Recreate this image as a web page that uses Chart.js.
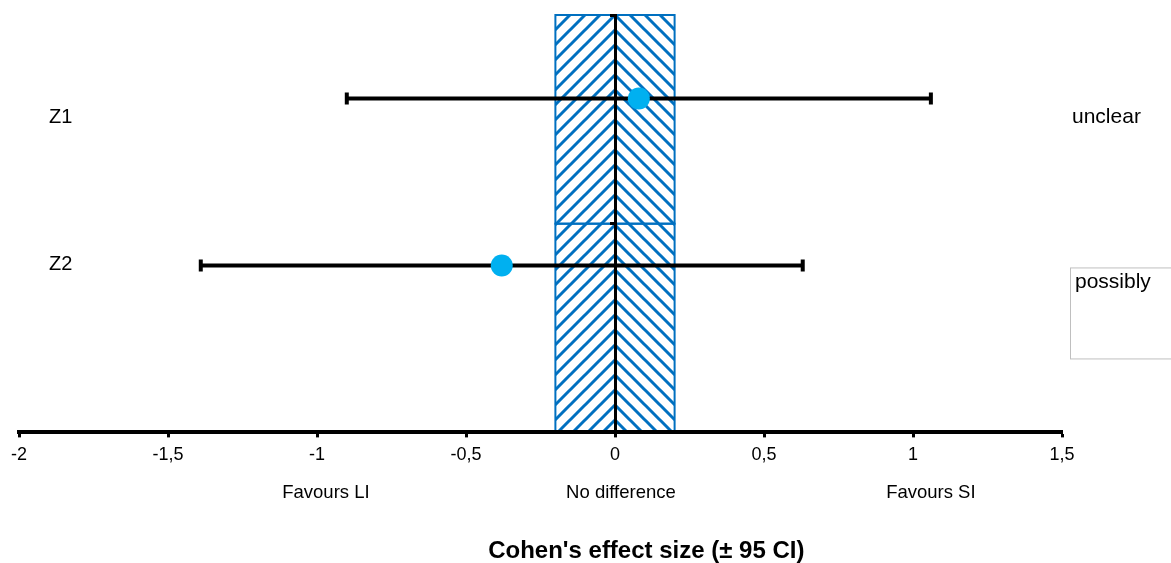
<!DOCTYPE html>
<html>
<head>
<meta charset="utf-8">
<script src="https://cdn.jsdelivr.net/npm/chart.js@4/dist/chart.umd.min.js"></script>
<style>
  html, body { margin: 0; padding: 0; background: #ffffff; }
  #wrap { width: 1171px; height: 563px; position: relative; }
</style>
</head>
<body>
<div id="wrap"><canvas id="c" width="1171" height="563"></canvas></div>
<script>
// ---- data ----
const studies = ['Z1', 'Z2'];
const studyRows = [2, 1];
const effect = [0.08, -0.38];
const ciLow = [-0.90, -1.39];
const ciHigh = [1.06, 0.63];
const verdicts = ['unclear', 'possibly'];
const xTicks = [-2, -1.5, -1, -0.5, 0, 0.5, 1, 1.5];
const zoneBounds = [-0.2, 0.2];
const zoneRows = [0, 1.25, 2.5];
const footLabels = ['Favours LI', 'No difference', 'Favours SI'];
const footX = [-0.97, 0.02, 1.06];
const axisTitle = "Cohen's effect size (\u00B1 95 CI)";

const FONT = '"Liberation Sans", Arial, sans-serif';
const BLUE = '#0070C0';

function makePattern(ctx, dir) {
  const s = 15;
  const c = document.createElement('canvas');
  c.width = s; c.height = s;
  const g = c.getContext('2d');
  g.strokeStyle = BLUE;
  g.lineWidth = 3;
  g.lineCap = 'square';
  g.beginPath();
  if (dir === 'up') {
    g.moveTo(0, s); g.lineTo(s, 0);
    g.moveTo(-2, 2); g.lineTo(2, -2);
    g.moveTo(s - 2, s + 2); g.lineTo(s + 2, s - 2);
  } else {
    g.moveTo(0, 0); g.lineTo(s, s);
    g.moveTo(-2, s - 2); g.lineTo(2, s + 2);
    g.moveTo(s - 2, -2); g.lineTo(s + 2, 2);
  }
  g.stroke();
  return ctx.createPattern(c, 'repeat');
}

const overlay = {
  id: 'overlay',
  beforeDraw(chart) {
    const { ctx, scales: { x, y } } = chart;
    const xl = x.getPixelForValue(zoneBounds[0]);
    const xm = x.getPixelForValue(0);
    const xr = x.getPixelForValue(zoneBounds[1]);
    const yt = y.getPixelForValue(zoneRows[zoneRows.length - 1]);
    const yb = y.getPixelForValue(zoneRows[0]);
    ctx.save();
    ctx.fillStyle = makePattern(ctx, 'up');
    ctx.fillRect(xl, yt, xm - xl, yb - yt);
    ctx.fillStyle = makePattern(ctx, 'down');
    ctx.fillRect(xm, yt, xr - xm, yb - yt);
    ctx.strokeStyle = BLUE;
    ctx.lineWidth = 2;
    for (let i = 0; i < zoneRows.length - 1; i++) {
      const a = y.getPixelForValue(zoneRows[i + 1]);
      const b = y.getPixelForValue(zoneRows[i]);
      ctx.strokeRect(xl, a, xr - xl, b - a);
    }
    ctx.restore();
  },
  afterDraw(chart) {
    const { ctx, chartArea, scales: { x, y } } = chart;
    ctx.save();
    ctx.fillStyle = '#000';
    ctx.textBaseline = 'middle';
    // study labels on the left
    ctx.font = '20px ' + FONT;
    ctx.textAlign = 'center';
    const labelOffsets = [19, -1];
    studies.forEach((s, i) => {
      ctx.fillText(s, x.getPixelForValue(-1.86), y.getPixelForValue(studyRows[i]) + labelOffsets[i]);
    });
    // verdict labels on the right
    ctx.font = '21px ' + FONT;
    ctx.textAlign = 'left';
    const rx = chartArea.right + 10;
    ctx.fillText(verdicts[0], rx, y.getPixelForValue(studyRows[0]) + 19);
    // boxed verdict
    const by = y.getPixelForValue(studyRows[1]) + 2;
    ctx.strokeStyle = '#bfbfbf';
    ctx.lineWidth = 1;
    ctx.strokeRect(rx - 1.5, by + 0.5, 140, 91);
    ctx.fillText(verdicts[1], rx + 3, by + 15);
    // foot labels
    ctx.textAlign = 'center';
    ctx.font = '18.5px ' + FONT;
    footLabels.forEach((t, i) => {
      ctx.fillText(t, x.getPixelForValue(footX[i]), chartArea.bottom + 61);
    });
    // axis title
    ctx.font = 'bold 24px ' + FONT;
    ctx.fillText(axisTitle, x.getPixelForValue(0.105), chartArea.bottom + 119);
    ctx.restore();
  }
};

const pointData = effect.map((v, i) => ({ x: v, y: studyRows[i] }));
const ciDatasets = studies.map((s, i) => ({
  type: 'line',
  label: s + ' CI',
  data: [{ x: ciLow[i], y: studyRows[i] }, { x: ciHigh[i], y: studyRows[i] }],
  borderColor: '#000',
  borderWidth: 4,
  pointStyle: 'line',
  rotation: 90,
  pointRadius: 6,
  pointBorderWidth: 4,
  pointBorderColor: '#000',
  pointBackgroundColor: '#000',
  fill: false,
  order: 2
}));

new Chart(document.getElementById('c'), {
  type: 'scatter',
  data: {
    datasets: [
      {
        label: 'Effect',
        data: pointData,
        backgroundColor: '#00B0F0',
        borderColor: '#00B0F0',
        pointRadius: 11,
        pointBorderWidth: 0,
        order: 1
      },
      ...ciDatasets
    ]
  },
  options: {
    responsive: false,
    animation: false,
    events: [],
    layout: { padding: { left: 19, right: 109, top: 15, bottom: 90 } },
    plugins: { legend: { display: false }, tooltip: { enabled: false } },
    scales: {
      x: {
        type: 'linear',
        min: xTicks[0],
        max: xTicks[xTicks.length - 1],
        afterBuildTicks(scale) { scale.ticks = xTicks.map(v => ({ value: v })); },
        ticks: {
          color: '#000',
          font: { family: FONT, size: 18 },
          padding: 7,
          maxRotation: 0,
          callback: v => String(v).replace('.', ',')
        },
        grid: { drawOnChartArea: false, drawTicks: true, tickLength: 5, tickWidth: 3, tickColor: '#000' },
        border: { color: '#000', width: 4 }
      },
      y: {
        type: 'linear',
        min: zoneRows[0],
        max: zoneRows[zoneRows.length - 1],
        position: { x: 0 },
        afterBuildTicks(scale) { scale.ticks = zoneRows.map(v => ({ value: v })); },
        ticks: { display: false },
        grid: { drawOnChartArea: false, drawTicks: true, tickLength: 4, tickWidth: 3, tickColor: '#000' },
        border: { color: '#000', width: 3 }
      }
    }
  },
  plugins: [overlay]
});
</script>
</body>
</html>
